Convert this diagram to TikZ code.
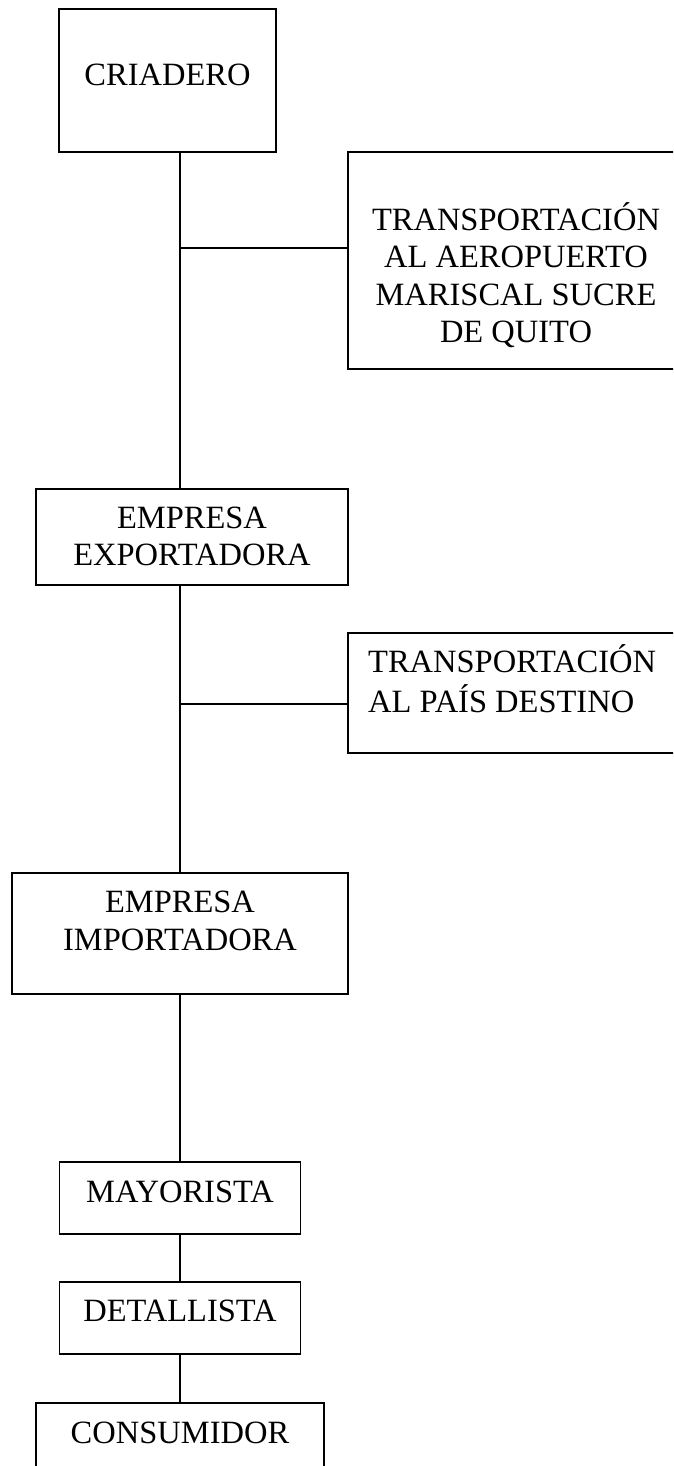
\documentclass[tikz,border=0pt]{standalone}
\usepackage{fontspec}
\setmainfont{Liberation Serif}
\begin{document}
\begin{tikzpicture}[x=1pt,y=-1pt,
  box/.style={draw, line width=1.8pt, rectangle, inner sep=0pt},
  lbl/.style={font=\fontsize{32.5}{37.5}\selectfont, inner sep=0pt},
  conn/.style={line width=1.8pt}]
\useasboundingbox (0,0) rectangle (673,1466);
\clip (0,0) rectangle (673,1466);
% boxes
\node[box, minimum width=217pt, minimum height=143pt] (crit) at (167.5,80.5) {};
\node[box, minimum width=342pt, minimum height=217pt] (tr1) at (519,260.5) {};
\node[box, minimum width=312pt, minimum height=96pt] (exp) at (192,537) {};
\node[box, minimum width=342pt, minimum height=120pt] (tr2) at (519,693) {};
\node[box, minimum width=336pt, minimum height=121pt] (imp) at (180,933.5) {};
\node[box, minimum width=241pt, minimum height=72pt] (mayo) at (180,1198) {};
\node[box, minimum width=241pt, minimum height=72pt] (det) at (180,1318) {};
\node[box, minimum width=288pt, minimum height=72pt] (cons) at (180,1439) {};
% texts
\node[lbl] (tcrit) at (167.5,78) {\strut CRIADERO};
\node[lbl, align=center] (ttr1) at (516,278) {\strut TRANSPORTACIÓN\\\strut AL AEROPUERTO\\\strut MARISCAL SUCRE\\\strut DE QUITO};
\node[lbl, align=center] (texp) at (192,539.5) {\strut EMPRESA\\\strut EXPORTADORA};
\node[lbl, align=left, anchor=west] (ttr2) at (368,684) {\strut TRANSPORTACIÓN\\\strut AL PAÍS DESTINO};
\node[lbl, align=center] (timp) at (180,924) {\strut EMPRESA\\\strut IMPORTADORA};
\node[lbl] (tmayo) at (180,1195) {\strut MAYORISTA};
\node[lbl] (tdet) at (180,1314) {\strut DETALLISTA};
\node[lbl] (tcons) at (180,1436) {\strut CONSUMIDOR};
% connectors
\coordinate (j1) at (180,248);
\coordinate (j2) at (180,704);
\draw[conn] (crit.south -| mayo.north) -- (exp.north -| mayo.north);
\draw[conn] (exp.south -| mayo.north) -- (imp.north -| mayo.north);
\draw[conn] (imp.south -| mayo.north) -- (mayo.north);
\draw[conn] (mayo.south) -- (det.north);
\draw[conn] (det.south) -- (cons.north);
\draw[conn] (j1) -- (j1 -| tr1.west);
\draw[conn] (j2) -- (j2 -| tr2.west);
\end{tikzpicture}
\end{document}
